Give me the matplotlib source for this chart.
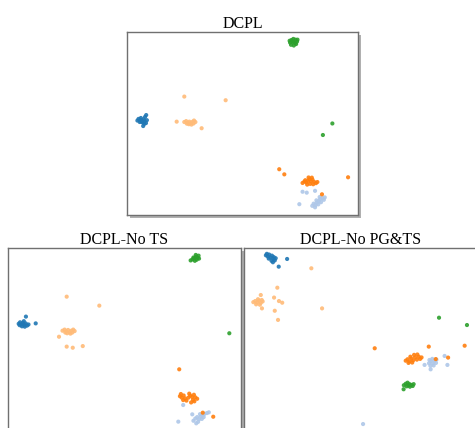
import matplotlib
matplotlib.use("Agg")
import matplotlib.pyplot as plt
from matplotlib.patches import Rectangle

# cores dos grupos (tab20)
AZUL = "#1f77b4"
LARANJA_CLARO = "#ffbb78"
LARANJA = "#ff7f0e"
AZUL_CLARO = "#aec7e8"
VERDE = "#2ca02c"

# ---------------- DCPL ----------------
dcpl_verde = [(70.6,94.2),(71.2,95.6),(72.0,96.2),(72.9,95.8),(73.6,94.8),(73.2,93.4),(72.2,92.6),(71.0,93.0),(72.0,94.4),(72.8,94.0),(71.6,95.0),(73.8,95.8),(70.4,95.2)]
dcpl_verde_sol = [(88.9,50.0),(84.8,43.7)]
dcpl_azul = [(5.0,52.5),(5.8,52.0),(6.5,51.5),(7.2,52.3),(7.8,53.6),(8.3,54.6),(6.0,53.0),(4.5,51.6),(5.5,50.8),(6.8,50.5),(7.5,49.8),(7.0,48.6),(8.2,50.2),(6.2,51.0),(7.6,51.2),(8.6,51.8)]
dcpl_lar_claro = [(24.8,50.8),(25.6,51.3),(26.3,50.4),(27.0,51.0),(27.6,50.2),(28.3,50.9),(29.0,51.6),(29.6,50.8),(26.8,49.6),(27.9,49.4),(25.9,49.9),(28.8,50.0)]
dcpl_lar_claro_sol = [(24.8,64.7),(42.7,62.7),(21.5,51.0),(32.3,47.4)]
dcpl_laranja = [(76.0,17.5),(76.8,18.3),(77.6,17.8),(78.3,18.6),(79.0,19.5),(79.6,18.4),(80.3,19.3),(81.0,18.1),(81.8,17.4),(82.4,18.0),(78.0,16.6),(79.3,17.0),(80.6,16.8),(77.2,19.0),(80.0,20.4),(78.6,20.5)]
dcpl_laranja_sol = [(65.9,25.0),(68.1,22.2),(95.7,20.6),(84.4,11.3)]
dcpl_azul_claro = [(80.2,5.0),(80.8,6.2),(81.6,5.4),(82.2,6.8),(83.0,7.5),(83.6,8.6),(84.5,9.2),(85.2,8.3),(84.0,7.0),(82.8,5.8),(81.4,4.2),(83.4,9.8),(85.6,9.6),(82.0,8.0)]
dcpl_azul_claro_sol = [(76.0,12.7),(77.8,12.2),(81.4,13.2),(74.6,5.9)]

# ---------------- DCPL-No TS ----------------
nots_verde = [(78.4,93.2),(79.2,93.8),(80.0,94.4),(80.8,95.2),(81.4,94.6),(81.8,95.8),(80.6,96.2),(81.0,93.6),(80.2,93.0),(79.6,94.8),(82.0,94.2)]
nots_verde_sol = [(95.0,53.4)]
nots_azul = [(4.6,58.6),(5.2,59.4),(5.8,58.2),(6.4,59.0),(7.0,58.0),(7.6,58.8),(8.2,57.6),(6.0,57.2),(5.0,57.8),(7.2,57.0),(6.8,60.0),(8.8,58.2)]
nots_azul_sol = [(7.7,62.5),(11.9,58.8)]
nots_lar_claro = [(23.4,54.8),(24.3,55.4),(25.0,54.4),(25.8,55.2),(26.5,54.0),(27.2,54.8),(28.0,55.4),(28.6,54.6),(25.4,53.4),(26.8,53.2),(24.6,53.8),(27.6,53.8)]
nots_lar_claro_sol = [(25.2,73.4),(39.2,68.5),(21.9,51.5),(25.2,46.1),(27.8,45.5),(32.1,46.4)]
nots_laranja = [(73.8,19.0),(74.6,18.2),(75.4,19.4),(76.0,17.8),(76.6,16.6),(75.2,16.9),(77.4,18.2),(78.2,19.4),(79.0,18.6),(79.8,19.8),(80.4,18.4),(81.2,17.6),(79.4,17.0),(78.6,15.6),(80.0,16.2),(77.8,20.4),(74.2,20.2)]
nots_laranja_sol = [(73.5,33.7),(88.1,7.8),(83.6,10.0)]
nots_azul_claro = [(79.6,5.6),(80.4,6.8),(81.2,7.6),(82.0,6.4),(82.8,8.0),(83.6,8.8),(84.4,9.4),(85.4,9.8),(81.6,5.0),(80.8,4.2),(83.2,6.6),(84.0,7.6),(86.2,10.2),(82.4,9.2)]
nots_azul_claro_sol = [(75.2,14.2),(73.1,5.1),(79.1,9.1)]

# ---------------- DCPL-No PG&TS ----------------
nopg_azul = [(9.4,96.0),(10.2,95.4),(10.8,96.4),(11.4,94.8),(12.0,95.8),(12.6,94.0),(13.2,93.2),(11.8,93.0),(10.6,94.2),(9.8,96.8),(12.8,95.0),(13.6,94.4),(12.4,92.2)]
nopg_azul_sol = [(18.5,94.0),(14.9,89.8)]
nopg_lar_claro = [(4.0,70.4),(4.8,71.0),(5.6,70.2),(6.4,71.2),(7.2,70.0),(8.0,70.8),(5.2,69.2),(6.8,69.0),(7.6,71.6),(6.0,72.0),(7.2,74.3),(7.7,67.0)]
nopg_lar_claro_sol = [(28.9,88.9),(14.3,78.3),(12.9,72.9),(15.0,71.0),(16.4,70.1),(13.2,65.7),(14.6,60.7),(33.5,67.0)]
nopg_verde = [(68.6,25.0),(69.4,25.8),(70.2,26.4),(71.0,25.6),(71.8,25.2),(72.4,24.6),(71.2,24.2),(69.8,24.4),(70.6,25.0),(72.8,25.6)]
nopg_verde_sol = [(83.7,61.9),(95.7,57.9),(68.5,22.8)]
nopg_laranja = [(69.4,38.4),(70.2,39.2),(71.0,38.0),(71.8,39.6),(72.6,38.6),(73.4,40.2),(74.2,39.0),(75.0,40.6),(75.6,39.4),(73.0,41.6),(74.4,41.8),(70.6,37.2),(72.2,37.4),(76.2,40.2),(71.4,40.6)]
nopg_laranja_sol = [(56.1,45.2),(79.3,46.1),(94.7,46.6),(87.6,40.1),(82.3,39.3)]
nopg_azul_claro = [(79.4,37.0),(80.2,38.2),(81.0,37.0),(81.8,38.4),(82.4,37.2),(81.4,35.8),(80.0,35.6),(82.6,39.0),(80.8,39.4),(79.6,38.8)]
nopg_azul_claro_sol = [(86.1,41.0),(77.5,36.1),(80.1,33.7),(87.3,36.1),(51.1,3.8)]

paineis = [
    ("DCPL", [0.2674, 0.4977, 0.4863, 0.4276], [
        (dcpl_verde + dcpl_verde_sol, VERDE),
        (dcpl_azul, AZUL),
        (dcpl_lar_claro + dcpl_lar_claro_sol, LARANJA_CLARO),
        (dcpl_azul_claro + dcpl_azul_claro_sol, AZUL_CLARO),
        (dcpl_laranja + dcpl_laranja_sol, LARANJA),
    ]),
    ("DCPL-No TS", [0.0168, -0.0070, 0.4905, 0.4276], [
        (nots_verde + nots_verde_sol, VERDE),
        (nots_azul + nots_azul_sol, AZUL),
        (nots_lar_claro + nots_lar_claro_sol, LARANJA_CLARO),
        (nots_azul_claro + nots_azul_claro_sol, AZUL_CLARO),
        (nots_laranja + nots_laranja_sol, LARANJA),
    ]),
    ("DCPL-No PG&TS", [0.5137, -0.0070, 0.4905, 0.4276], [
        (nopg_verde + nopg_verde_sol, VERDE),
        (nopg_azul + nopg_azul_sol, AZUL),
        (nopg_lar_claro + nopg_lar_claro_sol, LARANJA_CLARO),
        (nopg_azul_claro + nopg_azul_claro_sol, AZUL_CLARO),
        (nopg_laranja + nopg_laranja_sol, LARANJA),
    ]),
]

fig = plt.figure(figsize=(4.75, 4.28), dpi=100)
fig.patch.set_facecolor("white")

px = 1 / 475
py = 1 / 428

for titulo, pos, grupos in paineis:
    # sombra do quadro
    fig.patches.append(Rectangle((pos[0] + 3 * px, pos[1] - 3 * py), pos[2], pos[3],
                                 transform=fig.transFigure, facecolor="#b0b0b0",
                                 edgecolor="none", zorder=0))
    ax = fig.add_axes(pos)
    ax.set_zorder(1)
    for pontos, cor in grupos:
        xs = [p[0] for p in pontos]
        ys = [p[1] for p in pontos]
        ax.scatter(xs, ys, s=9, c=cor, edgecolors="none", alpha=0.9)
    ax.set_xlim(0, 100)
    ax.set_ylim(0, 100)
    ax.set_xticks([])
    ax.set_yticks([])
    for sp in ax.spines.values():
        sp.set_color("#707070")
        sp.set_linewidth(1.0)
    ax.set_title(titulo, fontfamily="Liberation Serif", fontsize=11.5, pad=3)

fig.savefig("out.png", dpi=100)
